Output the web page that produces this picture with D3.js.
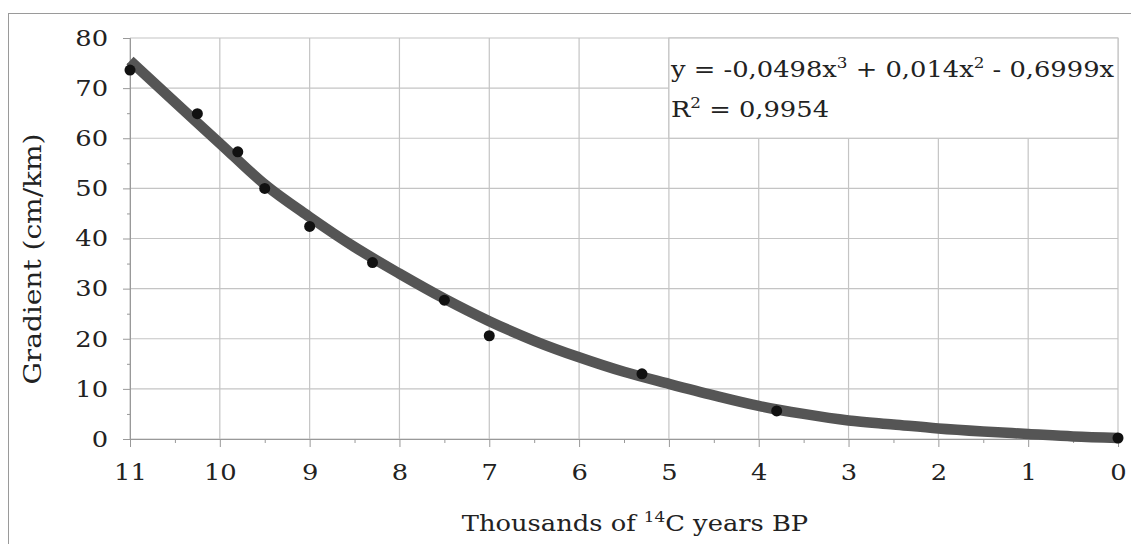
<!DOCTYPE html>
<html lang="en">
<head>
    <meta charset="UTF-8">
    <title>Gradient</title>
    <style>
        body {
            margin: 0;
            background-color: #ffffff;
        }
        svg {
            display: block;
        }
        text {
            font-family: "DejaVu Serif", serif;
            fill: #222;
        }
        /* the lettering of the original is wider than DejaVu Serif */
        .wide {
            transform-box: fill-box;
            transform-origin: center;
            transform: scaleX(1.12);
        }
        .wide-left {
            transform-box: fill-box;
            transform-origin: left center;
            transform: scaleX(1.12);
        }
        .wide-right {
            transform-box: fill-box;
            transform-origin: right center;
            transform: scaleX(1.12);
        }
    </style>
</head>
<body>
<script src="https://d3js.org/d3.v7.min.js"></script>
<script>
    // x axis in thousands of 14C years BP, y axis gradient in cm/km
    var xTicks = [11, 10, 9, 8, 7, 6, 5, 4, 3, 2, 1, 0];
    var yTicks = [0, 10, 20, 30, 40, 50, 60, 70, 80];

    // measured points
    var pointX = [11, 10.25, 9.8, 9.5, 9, 8.3, 7.5, 7, 5.3, 3.8, 0];
    var pointY = [73.6, 64.9, 57.3, 50.0, 42.4, 35.2, 27.7, 20.6, 13.0, 5.6, 0.2];

    // trend line
    var trendX = [11, 10.5, 10, 9.5, 9, 8.5, 8, 7.5, 7, 6.5, 6, 5.5, 5, 4.5, 4, 3.5, 3, 2.5, 2, 1.5, 1, 0.5, 0];
    var trendY = [75.5, 67.2, 59.0, 50.8, 44.3, 38.3, 33.0, 28.0, 23.5, 19.6, 16.3, 13.4, 11.0, 8.7, 6.6, 5.0, 3.7, 2.9, 2.1, 1.5, 1.0, 0.5, 0.2];

    var width = 1131, height = 544;
    var margin = {top: 38, right: 13, bottom: 105, left: 130};
    var fontSize = 23;

    var svg = d3.select("body").append("svg")
        .attr("width", width)
        .attr("height", height);

    // outer frame
    svg.append("rect")
        .attr("x", 8.5)
        .attr("y", 13.5)
        .attr("width", width + 20)
        .attr("height", height + 20)
        .attr("fill", "none")
        .attr("stroke", "#9a9a9a")
        .attr("stroke-width", 1);

    var xScale = d3.scaleLinear()
        .domain([11, 0])
        .range([margin.left, width - margin.right]);

    var yScale = d3.scaleLinear()
        .domain([0, 80])
        .range([height - margin.bottom, margin.top]);

    // grid
    var grid = svg.append("g");
    grid.selectAll(".vgrid")
        .data(xTicks)
        .enter().append("line")
        .attr("x1", d => xScale(d))
        .attr("x2", d => xScale(d))
        .attr("y1", yScale(80))
        .attr("y2", yScale(0))
        .attr("stroke", "#c4c4c4")
        .attr("stroke-width", 1.2);

    grid.selectAll(".hgrid")
        .data(yTicks)
        .enter().append("line")
        .attr("x1", xScale(11))
        .attr("x2", xScale(0))
        .attr("y1", d => yScale(d))
        .attr("y2", d => yScale(d))
        .attr("stroke", "#c4c4c4")
        .attr("stroke-width", 1.2);

    // y axis
    var yAxis = d3.axisLeft(yScale)
        .tickValues(yTicks)
        .tickSize(7)
        .tickPadding(15);
    var gy = svg.append("g")
        .attr("transform", "translate(" + xScale(11) + ",0)")
        .call(yAxis);
    gy.select(".domain").attr("stroke", "#999");
    gy.selectAll(".tick line").attr("stroke", "#999");
    gy.selectAll(".tick text")
        .attr("class", "wide-right")
        .attr("font-family", "DejaVu Serif")
        .attr("font-size", fontSize)
        .attr("fill", "#222");

    var yMinor = d3.axisLeft(yScale)
        .tickValues(d3.range(5, 80, 10))
        .tickSize(3)
        .tickFormat("");
    svg.append("g")
        .attr("transform", "translate(" + xScale(11) + ",0)")
        .call(yMinor)
        .call(g => g.select(".domain").remove())
        .selectAll("line").attr("stroke", "#999");

    // x axis
    var xAxis = d3.axisBottom(xScale)
        .tickValues(xTicks)
        .tickSize(8)
        .tickPadding(17);
    var gx = svg.append("g")
        .attr("transform", "translate(0," + yScale(0) + ")")
        .call(xAxis);
    gx.select(".domain").attr("stroke", "#999");
    gx.selectAll(".tick line").attr("stroke", "#999");
    gx.selectAll(".tick text")
        .attr("class", "wide")
        .attr("font-family", "DejaVu Serif")
        .attr("font-size", fontSize)
        .attr("fill", "#222");

    var xMinor = d3.axisBottom(xScale)
        .tickValues(d3.range(0.5, 11, 1))
        .tickSize(4)
        .tickFormat("");
    svg.append("g")
        .attr("transform", "translate(0," + yScale(0) + ")")
        .call(xMinor)
        .call(g => g.select(".domain").remove())
        .selectAll("line").attr("stroke", "#999");

    // trend line
    var trend = trendX.map((x, i) => [x, trendY[i]]);
    var line = d3.line()
        .x(d => xScale(d[0]))
        .y(d => yScale(d[1]))
        .curve(d3.curveMonotoneX);

    svg.append("path")
        .datum(trend)
        .attr("fill", "none")
        .attr("stroke", "#555555")
        .attr("stroke-width", 10.5)
        .attr("d", line);

    // points
    svg.selectAll(".dot")
        .data(pointX.map((x, i) => [x, pointY[i]]))
        .enter().append("circle")
        .attr("cx", d => xScale(d[0]))
        .attr("cy", d => yScale(d[1]))
        .attr("r", 5.5)
        .attr("fill", "#111");

    // equation box
    svg.append("rect")
        .attr("x", xScale(5))
        .attr("y", yScale(80))
        .attr("width", xScale(0) - xScale(5))
        .attr("height", yScale(60) - yScale(80))
        .attr("fill", "#fff")
        .attr("stroke", "#c4c4c4")
        .attr("stroke-width", 1.2);

    var eq = svg.append("text")
        .attr("class", "wide-left")
        .attr("x", xScale(5) + 2)
        .attr("y", 77)
        .attr("font-size", fontSize);
    eq.append("tspan").text("y = -0,0498x");
    eq.append("tspan").attr("dy", -9).attr("font-size", 15).text("3");
    eq.append("tspan").attr("dy", 9).text(" + 0,014x");
    eq.append("tspan").attr("dy", -9).attr("font-size", 15).text("2");
    eq.append("tspan").attr("dy", 9).text(" - 0,6999x");

    var r2 = svg.append("text")
        .attr("class", "wide-left")
        .attr("x", xScale(5) + 2)
        .attr("y", 117)
        .attr("font-size", fontSize);
    r2.append("tspan").text("R");
    r2.append("tspan").attr("dy", -9).attr("font-size", 15).text("2");
    r2.append("tspan").attr("dy", 9).text(" = 0,9954");

    // axis titles
    var xt = svg.append("text")
        .attr("class", "wide")
        .attr("x", 635)
        .attr("y", 531)
        .attr("text-anchor", "middle")
        .attr("font-size", fontSize);
    xt.append("tspan").text("Thousands of ");
    xt.append("tspan").attr("dy", -9).attr("font-size", 15).text("14");
    xt.append("tspan").attr("dy", 9).text("C years BP");

    svg.append("g")
        .attr("transform", "translate(41,259) rotate(-90)")
        .append("text")
        .attr("class", "wide")
        .attr("text-anchor", "middle")
        .attr("font-size", 25)
        .text("Gradient (cm/km)");
</script>
</body>
</html>
